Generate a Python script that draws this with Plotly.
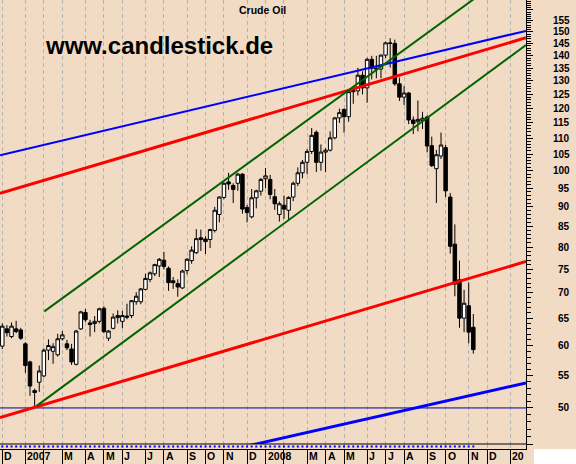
import numpy as np
import pandas as pd
import plotly.graph_objects as go

# ---------------- data (weekly crude oil candles, week ending Friday) ----------------
week_start = "2006-12-01"
n_weeks = 103
weeks = pd.date_range(week_start, periods=n_weeks, freq="7D")

opens = [59.9, 63.0, 61.6, 63.0, 62.8, 60.3, 57.2, 52.6, 53.9, 54.9,
         59.2, 59.0, 58.4, 61.2, 60.3, 59.4, 56.8, 63.0, 66.1, 64.1,
         64.0, 64.4, 66.9, 61.3, 63.1, 65.1, 64.4, 65.4, 65.5, 68.2,
         68.2, 70.7, 72.8, 74.0, 75.7, 77.0, 75.2, 72.5, 71.9, 71.0,
         74.7, 76.9, 78.7, 82.2, 81.9, 81.8, 84.0, 88.0, 92.5, 96.8,
         95.8, 96.4, 99.0, 89.8, 87.4, 92.4, 94.2, 97.7, 97.5, 92.7,
         88.0, 90.4, 89.1, 92.6, 96.4, 99.4, 102.5, 105.8, 111.9, 102.5,
         105.6, 106.2, 110.1, 116.7, 119.6, 117.1, 126.0, 126.3, 132.2, 127.4,
         138.5, 134.9, 134.6, 140.2, 145.3, 145.1, 128.9, 124.0, 125.5, 116.0,
         115.4, 115.8, 117.0, 107.6, 100.6, 104.4, 107.0, 92.6, 80.7, 72.7,
         65.0, 67.4, 63.3]
highs = [64.0, 63.7, 64.2, 64.5, 63.2, 60.6, 57.4, 52.9, 56.6, 59.5,
         61.1, 60.4, 62.1, 62.6, 61.0, 60.3, 62.8, 66.4, 66.8, 64.7,
         65.4, 67.0, 67.3, 62.8, 65.9, 66.5, 66.4, 67.8, 68.5, 70.1,
         71.0, 74.0, 74.5, 76.2, 77.5, 78.9, 75.6, 73.3, 72.8, 74.9,
         77.5, 80.2, 84.3, 84.2, 82.6, 84.4, 90.0, 92.8, 96.6, 99.4,
         96.4, 99.4, 99.3, 90.5, 94.8, 94.6, 97.9, 100.8, 98.8, 94.8,
         91.4, 93.0, 92.8, 96.9, 101.0, 103.2, 106.5, 113.3, 112.5, 108.0,
         106.8, 112.2, 117.0, 119.9, 120.0, 126.2, 127.8, 135.1, 133.7, 139.1,
         139.9, 139.9, 140.4, 145.9, 147.3, 146.7, 131.3, 128.0, 125.9, 117.2,
         122.8, 118.8, 117.5, 110.5, 106.3, 111.8, 107.9, 93.7, 85.5, 76.9,
         70.6, 72.1, 65.8]
lows = [59.4, 61.6, 61.3, 62.2, 61.0, 55.4, 51.8, 50.2, 52.4, 54.7,
        57.5, 56.9, 58.1, 60.9, 59.2, 56.7, 56.6, 62.8, 64.3, 61.6,
        62.4, 64.0, 62.2, 60.8, 62.9, 64.0, 63.1, 64.8, 65.0, 67.6,
        67.7, 70.5, 72.2, 73.5, 73.3, 75.0, 70.4, 70.8, 69.2, 70.8,
        73.9, 76.2, 78.4, 79.1, 78.4, 79.8, 83.5, 86.0, 92.0, 94.6,
        91.0, 94.3, 88.2, 86.0, 87.0, 89.6, 93.0, 95.0, 92.0, 89.2,
        86.2, 86.9, 86.4, 91.5, 95.6, 97.8, 99.0, 105.0, 99.6, 100.0,
        99.6, 105.8, 109.6, 115.0, 111.8, 115.4, 121.6, 124.6, 125.0, 122.0,
        130.6, 131.0, 131.0, 139.0, 135.2, 128.2, 122.6, 121.2, 114.6, 111.3,
        112.2, 113.0, 105.5, 101.1, 91.0, 103.5, 92.6, 78.5, 69.3, 63.2,
        62.4, 60.4, 58.6]
closes = [63.5, 62.3, 63.5, 62.5, 61.3, 56.6, 53.3, 52.3, 55.7, 59.2,
          60.0, 59.8, 61.2, 61.9, 59.6, 57.2, 62.6, 66.2, 64.7, 63.8,
          64.4, 66.8, 62.5, 62.6, 65.2, 65.5, 65.5, 65.2, 68.4, 69.3,
          70.8, 73.0, 74.2, 76.0, 77.2, 75.6, 72.1, 72.1, 71.2, 74.6,
          77.2, 79.3, 82.0, 81.8, 81.3, 84.2, 89.1, 92.6, 96.4, 96.2,
          94.7, 99.0, 89.4, 88.5, 92.4, 94.3, 97.5, 98.5, 93.3, 90.8,
          90.8, 89.4, 92.5, 96.4, 99.4, 102.5, 105.8, 110.9, 102.5, 105.6,
          106.2, 110.1, 116.7, 118.5, 117.1, 126.0, 126.3, 132.2, 127.4, 138.5,
          134.9, 134.6, 140.2, 145.3, 145.1, 128.9, 124.0, 125.5, 116.0, 114.8,
          116.2, 116.6, 107.5, 101.5, 104.8, 107.8, 94.3, 80.2, 71.8, 65.0,
          67.9, 62.4, 59.3]

indicator = [0] * n_weeks  # zero-line dots of the lower indicator strip

# x-axis window and month separators (first trading Friday of each month)
X_START = "2006-11-27 12:20"
X_END = "2009-02-01 20:20"
month_marks = ["2006-12-01", "2007-01-05", "2007-02-02", "2007-03-02", "2007-04-06",
               "2007-05-04", "2007-06-01", "2007-07-06", "2007-08-03", "2007-09-07",
               "2007-10-05", "2007-11-02", "2007-12-07", "2008-01-04", "2008-02-01",
               "2008-03-07", "2008-04-04", "2008-05-02", "2008-06-06", "2008-07-04",
               "2008-08-01", "2008-09-05", "2008-10-03", "2008-11-07", "2008-12-05",
               "2009-01-09"]
month_labels = ["D", "2007", "", "M", "A", "M", "J", "J", "A", "S", "O", "N", "D",
                "2008", "", "M", "A", "M", "J", "J", "A", "S", "O", "N", "D", "20"]

# y-axis (log) ticks
Y_MIN, Y_MAX = 45.0, 164.7
major_ticks = list(range(45, 165, 5))
minor_ticks = [v for v in range(45, 165) if v % 5]
label_ticks = list(range(50, 160, 5))

# trend lines (date, price) endpoints
trend_lines = [
    # x values, y values, colour, width
    ([X_START, X_END], [104.6, 150.5], "#0000FF", 2),
    ([X_START, X_END], [93.6, 147.5], "#FF0000", 3),
    ([X_START, X_END], [48.6, 76.7], "#FF0000", 3),
    (["2007-12-10 12:00", X_END], [44.8, 53.8], "#0000FF", 3),
    (["2007-02-02 17:00", X_END], [66.3, 184.5], "#006400", 2),
    (["2007-01-22 03:00", X_END], [50.3, 144.4], "#006400", 2),
]
base_level = 50

# ---------------- styling ----------------
BG = "#F2DBC5"
GRID = "#B4B4B4"
FONT = "Liberation Sans"
W, H = 576, 464
MR, MB = 50, 15
PW, PH = W - MR, H - MB
STRIP = 5

fig = go.Figure()

fig.add_trace(go.Scatter(x=[X_START, X_END], y=[base_level, base_level], mode="lines",
                         line=dict(color="#00009A", width=1), hoverinfo="skip"))
for xs, ys, col, wd in trend_lines:
    fig.add_trace(go.Scatter(x=xs, y=ys, mode="lines", line=dict(color=col, width=wd),
                             hoverinfo="skip"))

fig.add_trace(go.Candlestick(
    x=weeks, open=opens, high=highs, low=lows, close=closes,
    increasing=dict(line=dict(color="black", width=1), fillcolor="white"),
    decreasing=dict(line=dict(color="black", width=1), fillcolor="black"),
    whiskerwidth=0))

fig.add_trace(go.Scatter(x=weeks, y=indicator, mode="markers", yaxis="y2",
                         marker=dict(color="#0000FF", size=2, symbol="square"),
                         hoverinfo="skip"))

annotations = []
for v in label_ticks:
    annotations.append(dict(text=str(v), xref="paper", x=572 / PW, xanchor="right",
                            yref="y", y=np.log10(v), yanchor="middle", showarrow=False,
                            font=dict(family=FONT, size=10, color="black", weight="bold")))
for d, t in zip(month_marks, month_labels):
    if t:
        annotations.append(dict(text=t, xref="x", x=d, xanchor="left", xshift=0,
                                yref="paper", y=(PH - 456.5) / PH, yanchor="middle",
                                showarrow=False,
                                font=dict(family=FONT, size=10.5, color="black", weight="bold")))
annotations.append(dict(text="Crude Oil", xref="paper", x=262 / PW, xanchor="center",
                        yref="paper", y=(PH - 10) / PH, yanchor="middle", showarrow=False,
                        font=dict(family=FONT, size=10.5, color="black", weight="bold")))
annotations.append(dict(text="www.candlestick.de", xref="paper", x=43 / PW, xanchor="left",
                        yref="paper", y=(PH - 45.5) / PH, yanchor="middle", showarrow=False,
                        font=dict(family=FONT, size=24, color="black", weight="bold")))

shapes = [
    dict(type="line", xref="x domain", x0=0, x1=1, yref="y domain", y0=0, y1=0,
         line=dict(color="black", width=1)),
    dict(type="rect", xref="paper", x0=534 / PW, x1=W / PW, yref="paper", y0=-MB / PH, y1=0,
         fillcolor="white", line=dict(width=0), layer="above"),
]

fig.update_layout(
    width=W, height=H, margin=dict(l=0, r=MR, t=0, b=MB),
    paper_bgcolor=BG, plot_bgcolor=BG, showlegend=False,
    boxgap=0.25, boxgroupgap=0,
    annotations=annotations, shapes=shapes,
    xaxis=dict(type="date", range=[X_START, X_END], domain=[0, 1], anchor="y2",
               tickmode="array", tickvals=month_marks, showticklabels=False,
               ticks="outside", ticklen=15, tickcolor="black", tickwidth=1,
               showgrid=True, gridcolor=GRID, gridwidth=1, griddash="4px,3px",
               showline=True, linecolor="black", linewidth=1, zeroline=False,
               rangeslider=dict(visible=False), fixedrange=True),
    yaxis=dict(type="log", range=[np.log10(Y_MIN), np.log10(Y_MAX)],
               domain=[STRIP / PH, 1], anchor="x", side="right",
               showgrid=False, zeroline=False, showline=True, linecolor="black", linewidth=1,
               ticks="outside", ticklen=6, tickcolor="black", tickwidth=1,
               tickmode="array", tickvals=major_ticks, showticklabels=False,
               minor=dict(tickmode="array", tickvals=minor_ticks, ticks="outside",
                          ticklen=4, tickcolor="black", tickwidth=1, showgrid=False),
               fixedrange=True),
    yaxis2=dict(domain=[0, STRIP / PH], range=[-1, 1], anchor="x", side="right",
                showgrid=False, zeroline=False, showticklabels=False, showline=True,
                linecolor="black", ticks="", fixedrange=True),
)

fig.write_html("out.html", config={"displayModeBar": False},
               post_script="document.body.style.margin='0';document.body.style.padding='0';")
